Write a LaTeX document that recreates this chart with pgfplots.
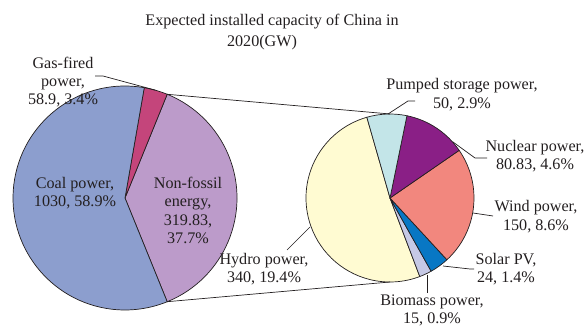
\documentclass[border=0pt]{standalone}
\usepackage{pgfplots}
\pgfplotsset{compat=1.18}
\usepackage{fontspec}
\setmainfont{Liberation Serif}
\definecolor{coal}{HTML}{8C9ECE}
\definecolor{gas}{HTML}{C4457B}
\definecolor{nonfossil}{HTML}{BC9BCA}
\definecolor{hydro}{HTML}{FFFBD2}
\definecolor{pumped}{HTML}{C3E5E8}
\definecolor{nuclear}{HTML}{8A1F86}
\definecolor{wind}{HTML}{F2877E}
\definecolor{solar}{HTML}{0877C4}
\definecolor{biomass}{HTML}{C6C9E6}
\definecolor{txt}{HTML}{231F20}
\begin{document}
\begin{tikzpicture}[font=\fontsize{16.2}{18.5}\selectfont]
\begin{axis}[hide axis, scale only axis, width=588bp, height=328bp,
  xmin=0, xmax=588, ymin=0, ymax=328, clip=false]
\coordinate (bl) at (axis cs:0,0);
\coordinate (tr) at (axis cs:588,328);
% ---- left pie: shares in percent (non-fossil, gas, coal), counter-clockwise
\xdef\ang{-67.86}
\foreach \v/\c in {37.7/nonfossil, 3.4/gas, 58.9/coal}{
  \pgfmathsetmacro\e{\ang+3.6*\v}
  \edef\tmp{\noexpand\filldraw[fill=\c, draw=txt, line width=0.7pt, line join=round]
    (axis cs:125,130) -- ([shift={(\ang:112bp)}]axis cs:125,130)
    arc[start angle=\ang, end angle=\e, radius=112bp] -- cycle;}
  \tmp
  \xdef\ang{\e}
}
% ---- right pie: shares in percent of total (sum 37.8)
\xdef\ang{106}
\foreach \v/\c in {19.4/hydro, 0.9/biomass, 1.4/solar, 8.6/wind, 4.6/nuclear, 2.9/pumped}{
  \pgfmathsetmacro\e{\ang+360*\v/37.8}
  \edef\tmp{\noexpand\filldraw[fill=\c, draw=txt, line width=0.7pt, line join=round]
    (axis cs:390,130) -- ([shift={(\ang:84bp)}]axis cs:390,130)
    arc[start angle=\ang, end angle=\e, radius=84bp] -- cycle;}
  \tmp
  \xdef\ang{\e}
}
% connecting lines
\draw[txt, line width=0.7pt] (axis cs:167.2,233.7) -- (axis cs:390,214);
\draw[txt, line width=0.7pt] (axis cs:167.2,26.3) -- (axis cs:390,46);
% leader lines
\draw[txt, line width=0.7pt] (axis cs:95,252) -- (axis cs:103,252) -- (axis cs:155.5,237.8);
\draw[txt, line width=0.7pt] (axis cs:388,214) -- (axis cs:408,227) -- (axis cs:415,227);
\draw[txt, line width=0.7pt] (axis cs:453,186) -- (axis cs:475,170) -- (axis cs:487,170);
\draw[txt, line width=0.7pt] (axis cs:473,115) -- (axis cs:493,112);
\draw[txt, line width=0.7pt] (axis cs:443,62) -- (axis cs:470,59) -- (axis cs:474,59);
\draw[txt, line width=0.7pt] (axis cs:427,53) -- (axis cs:427,35);
\draw[txt, line width=0.7pt] (axis cs:310,101) -- (axis cs:287,78);
% labels
\node[align=center, text=txt] at (axis cs:272,306) {Expected installed capacity of China in};
\node[align=center, text=txt] at (axis cs:262,285) {2020(GW)};
\node[align=center, text=txt] at (axis cs:63,246) {Gas-fired\\power,\\58.9, 3.4\%};
\node[align=center, text=txt] at (axis cs:75,135) {Coal power,\\1030, 58.9\%};
\node[align=center, text=txt] at (axis cs:188,117.5) {Non-fossil\\energy,\\319.83,\\37.7\%};
\node[align=center, text=txt] at (axis cs:462,233.5) {Pumped storage power,\\50, 2.9\%};
\node[align=center, text=txt] at (axis cs:535,172) {Nuclear power,\\80.83, 4.6\%};
\node[align=center, text=txt] at (axis cs:536,111.5) {Wind power,\\150, 8.6\%};
\node[align=center, text=txt] at (axis cs:506,59) {Solar PV,\\24, 1.4\%};
\node[align=center, text=txt, inner sep=1pt] at (axis cs:432,17.5) {Biomass power,\\15, 0.9\%};
\node[align=center, text=txt] at (axis cs:264,59) {Hydro power,\\340, 19.4\%};
\end{axis}
\pgfresetboundingbox
\useasboundingbox (bl) rectangle (tr);
\end{tikzpicture}
\end{document}
